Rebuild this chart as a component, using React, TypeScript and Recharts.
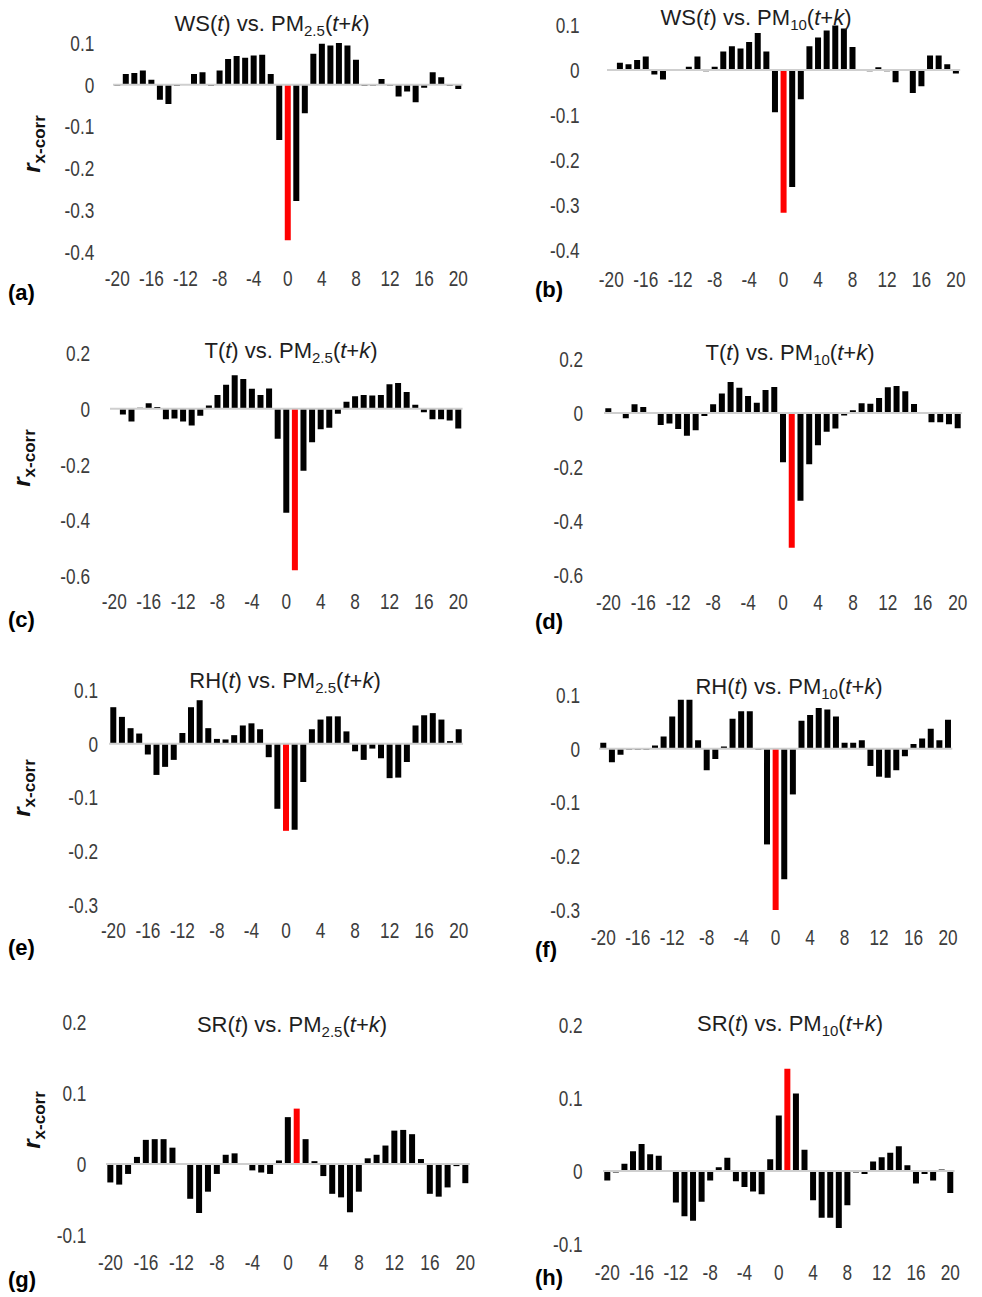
import React from 'react';
import { BarChart, Bar, XAxis, YAxis, Cell, ReferenceLine } from 'recharts';

const lags = [-20, -19, -18, -17, -16, -15, -14, -13, -12, -11, -10, -9, -8, -7, -6, -5, -4, -3, -2, -1, 0, 1, 2, 3, 4, 5, 6, 7, 8, 9, 10, 11, 12, 13, 14, 15, 16, 17, 18, 19, 20];

const wsPm25 = [-0.002, 0.026, 0.028, 0.034, 0.012, -0.036, -0.046, -0.003, 0.002, 0.026, 0.03, -0.003, 0.034, 0.062, 0.069, 0.065, 0.07, 0.072, 0.026, -0.132, -0.372, -0.278, -0.068, 0.074, 0.098, 0.094, 0.1, 0.094, 0.06, -0.003, -0.002, 0.014, -0.002, -0.028, -0.016, -0.042, -0.007, 0.03, 0.018, -0.003, -0.01];
const wsPm10 = [-0.002, 0.016, 0.013, 0.022, 0.03, -0.01, -0.021, -0.002, -0.002, 0.007, 0.03, -0.003, 0.007, 0.041, 0.053, 0.048, 0.062, 0.082, 0.041, -0.094, -0.317, -0.26, -0.065, 0.053, 0.072, 0.088, 0.099, 0.092, 0.051, -0.002, -0.003, 0.006, -0.003, -0.027, -0.002, -0.051, -0.036, 0.032, 0.032, 0.013, -0.008];
const tPm25 = [0.003, -0.02, -0.045, 0.004, 0.02, 0.007, -0.037, -0.035, -0.045, -0.06, -0.025, 0.012, 0.05, 0.086, 0.12, 0.107, 0.072, 0.05, 0.073, -0.107, -0.372, -0.578, -0.222, -0.12, -0.073, -0.068, -0.018, 0.025, 0.045, 0.05, 0.048, 0.05, 0.088, 0.093, 0.06, 0.015, -0.012, -0.037, -0.037, -0.042, -0.07];
const tPm10 = [0.017, 0.003, -0.02, 0.032, 0.022, -0.003, -0.045, -0.039, -0.06, -0.085, -0.064, -0.011, 0.032, 0.072, 0.115, 0.093, 0.063, 0.038, 0.085, 0.096, -0.183, -0.5, -0.326, -0.19, -0.12, -0.07, -0.058, -0.01, 0.01, 0.036, 0.034, 0.055, 0.095, 0.1, 0.08, 0.033, 0.003, -0.035, -0.035, -0.042, -0.057];
const rhPm25 = [0.068, 0.05, 0.029, 0.019, -0.02, -0.058, -0.043, -0.03, 0.02, 0.068, 0.081, 0.029, 0.009, 0.008, 0.016, 0.034, 0.038, 0.027, -0.025, -0.121, -0.162, -0.16, -0.071, 0.027, 0.045, 0.051, 0.051, 0.023, -0.014, -0.03, -0.009, -0.027, -0.064, -0.063, -0.034, 0.034, 0.053, 0.057, 0.045, 0.005, 0.027];
const rhPm10 = [0.011, -0.025, -0.011, -0.002, -0.002, -0.002, 0.006, 0.023, 0.06, 0.091, 0.091, 0.016, -0.04, -0.019, 0.004, 0.056, 0.07, 0.07, -0.002, -0.178, -0.3, -0.243, -0.085, 0.052, 0.063, 0.076, 0.073, 0.06, 0.011, 0.011, 0.016, -0.032, -0.052, -0.054, -0.04, -0.014, 0.009, 0.019, 0.037, 0.016, 0.054];
const srPm25 = [-0.026, -0.029, -0.014, 0.01, 0.034, 0.035, 0.035, 0.023, 0.001, -0.049, -0.069, -0.039, -0.014, 0.013, 0.015, 0.001, -0.009, -0.012, -0.014, 0.005, 0.066, 0.078, 0.035, 0.004, -0.017, -0.042, -0.047, -0.068, -0.039, 0.008, 0.013, 0.026, 0.047, 0.048, 0.042, 0.007, -0.042, -0.046, -0.033, -0.003, -0.027];
const srPm10 = [-0.013, -0.002, 0.01, 0.027, 0.037, 0.023, 0.021, 0.001, -0.043, -0.062, -0.068, -0.042, -0.013, 0.005, 0.018, -0.014, -0.022, -0.028, -0.032, 0.016, 0.076, 0.14, 0.106, 0.029, -0.04, -0.064, -0.064, -0.078, -0.047, -0.002, -0.004, 0.013, 0.019, 0.025, 0.034, 0.008, -0.017, -0.004, -0.013, 0.002, -0.03];

const ticksWS = [-0.4, -0.3, -0.2, -0.1, 0, 0.1];
const ticksT = [-0.6, -0.4, -0.2, 0, 0.2];
const ticksRH = [-0.3, -0.2, -0.1, 0, 0.1];
const ticksSR = [-0.1, 0, 0.1, 0.2];

const FONT = "'Liberation Sans', Arial, Helvetica, sans-serif";
const TICK_FILL = '#3c3c3c';

const XTick = (props: any) => {
  const { x, y, payload } = props;
  return (
    <text transform={`translate(${x},${y}) scale(0.82,1.04)`} textAnchor="middle" dy="0.36em" fontSize={21} fontFamily={FONT} fill={TICK_FILL}>
      {payload.value}
    </text>
  );
};

const YTick = (props: any) => {
  const { x, y, payload } = props;
  return (
    <text transform={`translate(${x},${y}) scale(0.82,1.04)`} textAnchor="end" dy="0.36em" fontSize={21} fontFamily={FONT} fill={TICK_FILL}>
      {String(payload.value)}
    </text>
  );
};

type Cfg = {
  values: number[];
  redLag: number;
  ticks: number[];
  x0: number;
  x20: number;
  yTopPx: number;
  yBotPx: number;
  labelY: number;
  tickRight: number;
  pre: string;
  sub: string;
  titleX: number;
  titleY: number;
  letter: string;
  letterX: number;
  letterY: number;
};

const panels: Cfg[] = [
  { values: wsPm25, redLag: 0, ticks: ticksWS, x0: 117, x20: 458, yTopPx: 43, yBotPx: 252, labelY: 278, tickRight: 94, pre: 'WS', sub: '2.5', titleX: 272, titleY: 24, letter: '(a)', letterX: 8, letterY: 293 },
  { values: wsPm10, redLag: 0, ticks: ticksWS, x0: 611.7, x20: 956.3, yTopPx: 25, yBotPx: 250, labelY: 279, tickRight: 580, pre: 'WS', sub: '10', titleX: 756, titleY: 18, letter: '(b)', letterX: 535, letterY: 290 },
  { values: tPm25, redLag: 1, ticks: ticksT, x0: 114.3, x20: 458.3, yTopPx: 353.3, yBotPx: 576.7, labelY: 601, tickRight: 90, pre: 'T', sub: '2.5', titleX: 291, titleY: 351, letter: '(c)', letterX: 8, letterY: 620 },
  { values: tPm10, redLag: 1, ticks: ticksT, x0: 608.3, x20: 957.7, yTopPx: 359.3, yBotPx: 575, labelY: 602, tickRight: 583, pre: 'T', sub: '10', titleX: 790, titleY: 353, letter: '(d)', letterX: 535, letterY: 622 },
  { values: rhPm25, redLag: 0, ticks: ticksRH, x0: 113.3, x20: 458.7, yTopPx: 690, yBotPx: 905, labelY: 930, tickRight: 98, pre: 'RH', sub: '2.5', titleX: 285, titleY: 681, letter: '(e)', letterX: 8, letterY: 948 },
  { values: rhPm10, redLag: 0, ticks: ticksRH, x0: 603.3, x20: 948, yTopPx: 695, yBotPx: 910, labelY: 937, tickRight: 580, pre: 'RH', sub: '10', titleX: 789, titleY: 687, letter: '(f)', letterX: 535, letterY: 950 },
  { values: srPm25, redLag: 1, ticks: ticksSR, x0: 110, x20: 465, yTopPx: 1022, yBotPx: 1235, labelY: 1262, tickRight: 86, pre: 'SR', sub: '2.5', titleX: 292, titleY: 1025, letter: '(g)', letterX: 8, letterY: 1280 },
  { values: srPm10, redLag: 1, ticks: ticksSR, x0: 607.7, x20: 950.7, yTopPx: 1025, yBotPx: 1244, labelY: 1272, tickRight: 583, pre: 'SR', sub: '10', titleX: 790, titleY: 1024, letter: '(h)', letterX: 535, letterY: 1278 },
];

const yLabels = [
  { x: 32, y: 144 },
  { x: 22, y: 458 },
  { x: 22, y: 788 },
  { x: 32, y: 1120 },
];

const YW = 60;
const MT = 12;
const MR = 6;
const XH = 50;

function Panel({ cfg }: { cfg: Cfg }) {
  const spacing = (cfg.x20 - cfg.x0) / 40;
  const plotLeft = cfg.x0 - spacing / 2;
  const plotWidth = spacing * 41;
  const plotHeight = cfg.yBotPx - cfg.yTopPx;
  const width = YW + plotWidth + MR;
  const height = MT + plotHeight + XH;
  const data = lags.map((k, i) => ({ k, v: cfg.values[i] }));
  const domain = [cfg.ticks[0], cfg.ticks[cfg.ticks.length - 1]];
  return (
    <>
      <div style={{ position: 'absolute', left: plotLeft - YW, top: cfg.yTopPx - MT }}>
        <BarChart width={width} height={height} data={data} margin={{ top: MT, right: MR, bottom: 0, left: 0 }} barCategoryGap="15%">
          <XAxis dataKey="k" type="category" interval={3} axisLine={false} tickLine={false} tickSize={0} tickMargin={cfg.labelY - cfg.yBotPx} height={XH} tick={<XTick />} />
          <YAxis type="number" domain={domain} ticks={cfg.ticks} interval={0} axisLine={false} tickLine={false} tickSize={0} tickMargin={plotLeft - cfg.tickRight} width={YW} tick={<YTick />} allowDataOverflow />
          <ReferenceLine y={0} stroke="#cfcfcf" strokeWidth={2} />
          <Bar dataKey="v" isAnimationActive={false}>
            {data.map((d) => (
              <Cell key={d.k} fill={d.k === cfg.redLag ? '#ff0000' : '#000000'} />
            ))}
          </Bar>
        </BarChart>
      </div>
      <div style={{ position: 'absolute', left: cfg.titleX - 200, width: 400, top: cfg.titleY - 13, height: 26, lineHeight: '26px', textAlign: 'center', fontFamily: FONT, fontSize: 22, color: '#1e1e1e', whiteSpace: 'nowrap' }}>
        {cfg.pre}(<i>t</i>) vs. PM<span style={{ fontSize: 15, position: 'relative', top: 5 }}>{cfg.sub}</span>(<i>t</i>+<i>k</i>)
      </div>
      <div style={{ position: 'absolute', left: cfg.letterX, top: cfg.letterY - 13, height: 26, lineHeight: '26px', fontFamily: FONT, fontSize: 22, fontWeight: 'bold', color: '#000' }}>
        {cfg.letter}
      </div>
    </>
  );
}

export default function App() {
  return (
    <div style={{ position: 'absolute', left: 0, top: 0, width: 982, height: 1297, background: '#fff', overflow: 'hidden' }}>
      {panels.map((p, i) => (
        <Panel key={i} cfg={p} />
      ))}
      {yLabels.map((l, i) => (
        <div key={i} style={{ position: 'absolute', left: l.x - 60, top: l.y - 15, width: 120, height: 30, lineHeight: '30px', textAlign: 'center', transform: 'rotate(-90deg)', fontFamily: FONT, fontWeight: 'bold', color: '#111', whiteSpace: 'nowrap' }}>
          <i style={{ fontSize: 24 }}>r</i>
          <span style={{ fontSize: 17, position: 'relative', top: 5 }}>x-corr</span>
        </div>
      ))}
    </div>
  );
}
